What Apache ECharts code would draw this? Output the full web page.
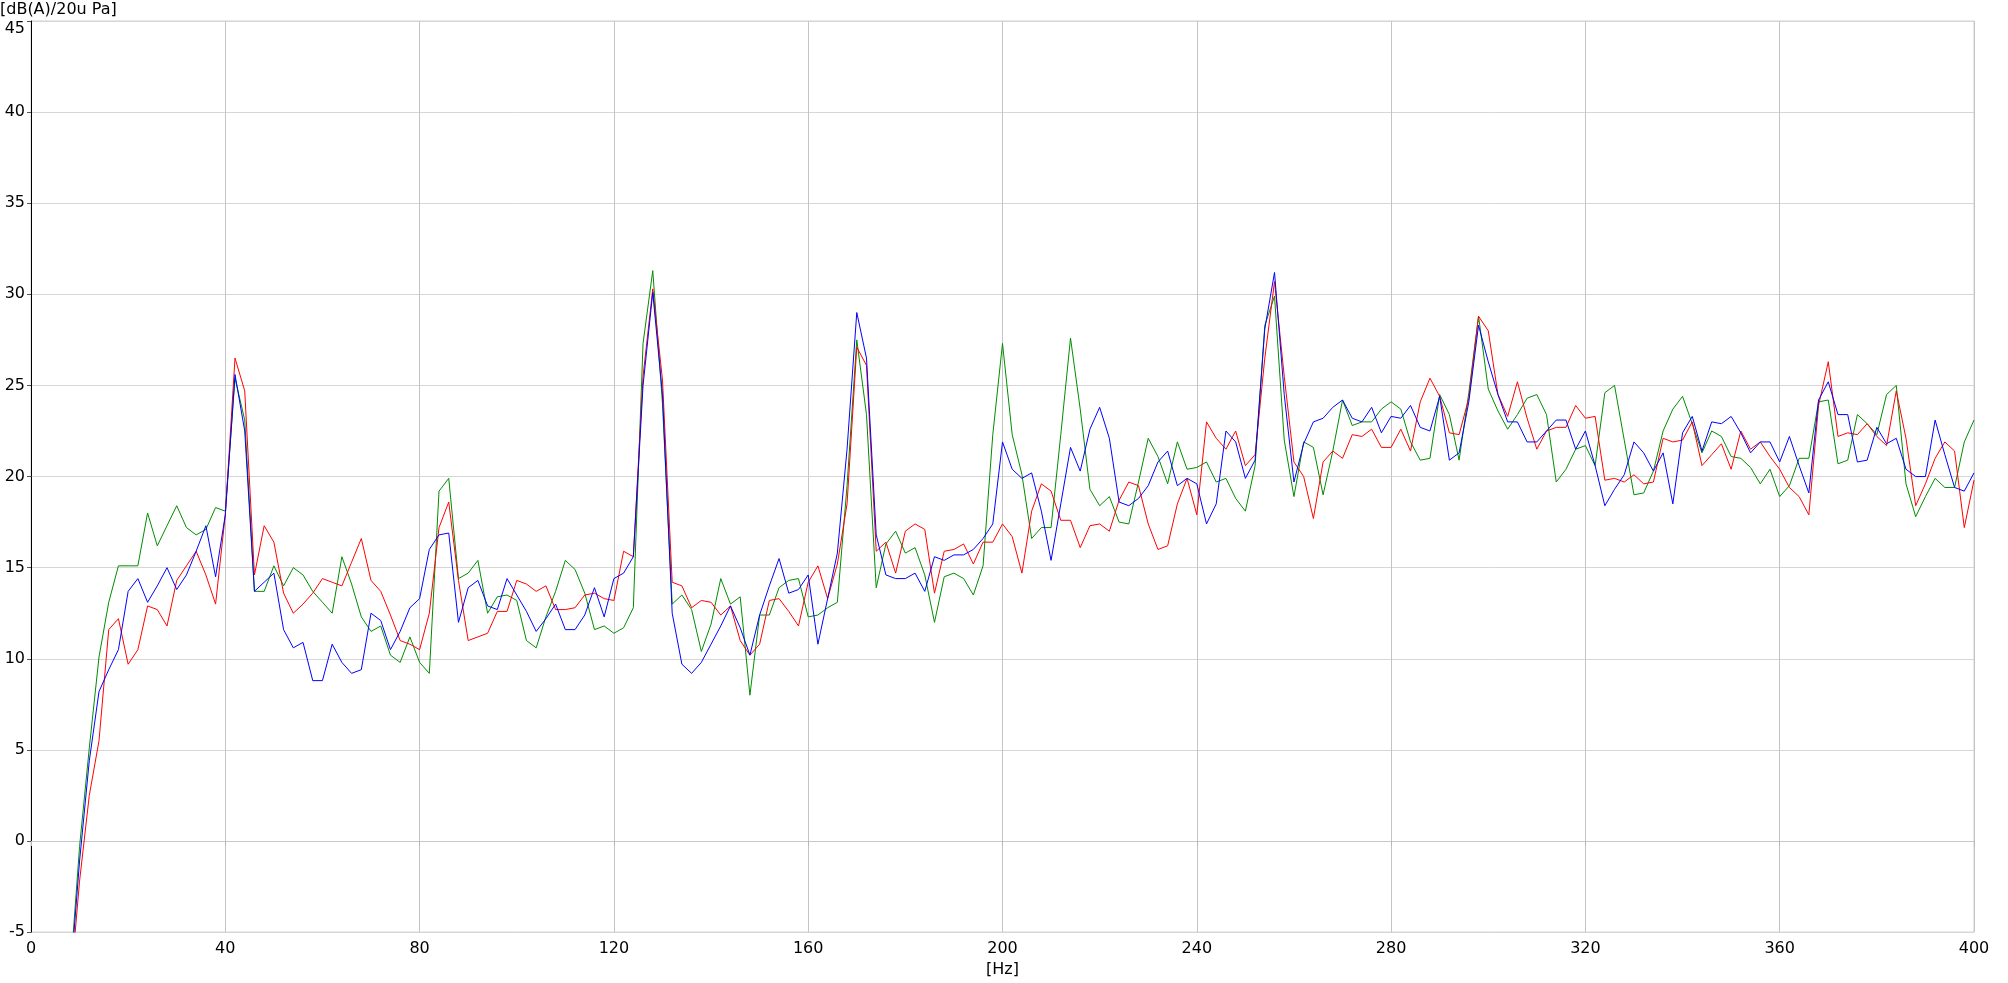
<!DOCTYPE html>
<html>
<head>
<meta charset="utf-8">
<title>Spectrum</title>
<script src="https://cdn.jsdelivr.net/npm/echarts@6/dist/echarts.min.js"></script>
<style>
  html, body { margin: 0; padding: 0; background: #fff; }
  #chart { width: 2008px; height: 983px; }
</style>
</head>
<body>
<div id="chart"></div>
<script>
// frequency bins: 2 Hz spacing, first bin shown at 8 Hz
const hzStart = 8;
const hzStep = 2;

const xTicks = [0, 40, 80, 120, 160, 200, 240, 280, 320, 360, 400];
const yTicks = [-5, 0, 5, 10, 15, 20, 25, 30, 35, 40, 45];

// dB(A) levels, one value per bin
const levelRed = [
  -8.4, -2.2, 2.5, 5.5, 11.6, 12.2, 9.7, 10.5, 12.9, 12.7, 11.8, 14.3, 15.1, 15.9, 14.6, 13.0, 17.9, 26.5, 24.7, 14.6,
  17.3, 16.4, 13.6, 12.5, 13.0, 13.6, 14.4, 14.2, 14.0, 15.3, 16.6, 14.3, 13.7, 12.4, 11.0, 10.8, 10.5, 12.5, 17.2, 18.6,
  14.3, 11.0, 11.2, 11.4, 12.6, 12.6, 14.3, 14.1, 13.7, 14.0, 12.7, 12.7, 12.8, 13.5, 13.6, 13.3, 13.2, 15.9, 15.6, 25.5,
  30.3, 25.3, 14.2, 14.0, 12.8, 13.2, 13.1, 12.4, 12.9, 11.0, 10.2, 10.8, 13.2, 13.3, 12.6, 11.8, 14.2, 15.1, 13.3, 15.2,
  18.5, 27.1, 26.1, 15.9, 16.4, 14.7, 17.0, 17.4, 17.1, 13.6, 15.9, 16.0, 16.3, 15.2, 16.4, 16.4, 17.4, 16.7, 14.7, 18.1,
  19.6, 19.2, 17.6, 17.6, 16.1, 17.3, 17.4, 17.0, 18.7, 19.7, 19.5, 17.4, 16.0, 16.2, 18.5, 19.9, 17.9, 23.0, 22.1, 21.5,
  22.5, 20.6, 21.2, 26.5, 30.7, 25.5, 20.8, 20.0, 17.7, 20.8, 21.4, 21.0, 22.3, 22.2, 22.6, 21.6, 21.6, 22.6, 21.4, 24.1,
  25.4, 24.4, 22.4, 22.3, 24.3, 28.8, 28.0, 24.5, 23.3, 25.2, 23.2, 21.5, 22.5, 22.7, 22.7, 23.9, 23.2, 23.3, 19.8, 19.9,
  19.7, 20.1, 19.6, 19.7, 22.1, 21.9, 22.0, 23.0, 20.6, 21.2, 21.8, 20.4, 22.5, 21.5, 21.9, 21.1, 20.4, 19.4, 18.9, 17.9,
  23.9, 26.3, 22.2, 22.4, 22.3, 22.9, 22.2, 21.7, 24.7, 22.1, 18.4, 19.6, 21.0, 21.9, 21.4, 17.2, 19.8
];

const levelBlue = [
  -7.9, -1.1, 4.4, 8.2, 9.4, 10.5, 13.7, 14.4, 13.1, 14.0, 15.0, 13.8, 14.6, 15.9, 17.3, 14.5, 17.9, 25.6, 22.5, 13.7,
  14.2, 14.7, 11.6, 10.6, 10.9, 8.8, 8.8, 10.8, 9.8, 9.2, 9.4, 12.5, 12.1, 10.5, 11.5, 12.8, 13.3, 16.0, 16.8, 16.9,
  12.0, 13.9, 14.3, 12.9, 12.7, 14.4, 13.5, 12.6, 11.5, 12.2, 13.0, 11.6, 11.6, 12.4, 13.9, 12.3, 14.4, 14.7, 15.6, 25.0,
  30.1, 24.5, 12.5, 9.7, 9.2, 9.8, 10.8, 11.8, 12.9, 11.7, 10.2, 12.4, 14.0, 15.5, 13.6, 13.8, 14.6, 10.8, 13.3, 15.8,
  21.5, 29.0, 26.5, 16.8, 14.6, 14.4, 14.4, 14.7, 13.7, 15.6, 15.4, 15.7, 15.7, 16.0, 16.6, 17.4, 21.9, 20.4, 19.9, 20.2,
  18.1, 15.4, 18.5, 21.6, 20.3, 22.6, 23.8, 22.1, 18.6, 18.4, 18.8, 19.5, 20.8, 21.4, 19.5, 19.9, 19.6, 17.4, 18.5, 22.5,
  21.9, 19.9, 20.9, 28.1, 31.2, 24.5, 19.7, 21.8, 23.0, 23.2, 23.8, 24.2, 23.2, 23.0, 23.8, 22.4, 23.3, 23.2, 23.9, 22.7,
  22.5, 24.4, 20.9, 21.3, 24.1, 28.3, 26.3, 24.5, 23.0, 23.0, 21.9, 21.9, 22.5, 23.1, 23.1, 21.5, 22.5, 20.6, 18.4, 19.3,
  20.1, 21.9, 21.3, 20.3, 21.3, 18.5, 22.4, 23.3, 21.4, 23.0, 22.9, 23.3, 22.4, 21.3, 21.9, 21.9, 20.8, 22.2, 20.6, 19.1,
  24.2, 25.2, 23.4, 23.4, 20.8, 20.9, 22.7, 21.8, 22.1, 20.4, 20.0, 20.0, 23.1, 21.2, 19.4, 19.2, 20.2
];

const levelGreen = [
  -7.6, -0.3, 5.1, 10.1, 13.1, 15.1, 15.1, 15.1, 18.0, 16.2, 17.3, 18.4, 17.2, 16.8, 17.1, 18.3, 18.1, 25.4, 23.1, 13.7,
  13.7, 15.1, 14.0, 15.0, 14.6, 13.7, 13.1, 12.5, 15.6, 14.1, 12.3, 11.5, 11.8, 10.2, 9.8, 11.2, 9.8, 9.2, 19.2, 19.9,
  14.4, 14.7, 15.4, 12.5, 13.4, 13.5, 13.2, 11.0, 10.6, 12.3, 13.7, 15.4, 14.9, 13.6, 11.6, 11.8, 11.4, 11.7, 12.8, 27.3,
  31.3, 24.0, 13.0, 13.5, 12.7, 10.4, 11.9, 14.4, 13.0, 13.4, 8.0, 12.4, 12.4, 13.9, 14.3, 14.4, 12.3, 12.4, 12.8, 13.1,
  19.5, 27.5, 23.4, 13.9, 16.3, 17.0, 15.8, 16.1, 14.6, 12.0, 14.5, 14.7, 14.4, 13.5, 15.1, 22.3, 27.3, 22.3, 20.1, 16.6,
  17.2, 17.2, 22.3, 27.6, 23.7, 19.3, 18.4, 18.9, 17.5, 17.4, 19.7, 22.1, 21.1, 19.6, 21.9, 20.4, 20.5, 20.8, 19.7, 19.9,
  18.8, 18.1, 20.6, 28.3, 29.9, 22.0, 18.9, 21.9, 21.6, 19.0, 21.4, 24.2, 22.8, 23.0, 23.0, 23.7, 24.1, 23.7, 21.9, 20.9,
  21.0, 24.5, 23.4, 20.9, 24.6, 28.8, 24.8, 23.6, 22.6, 23.4, 24.3, 24.5, 23.4, 19.7, 20.4, 21.5, 21.7, 20.6, 24.6, 25.0,
  22.0, 19.0, 19.1, 20.3, 22.5, 23.7, 24.4, 22.9, 21.3, 22.5, 22.2, 21.1, 21.0, 20.5, 19.6, 20.4, 18.9, 19.5, 21.0, 21.0,
  24.1, 24.2, 20.7, 20.9, 23.4, 22.9, 22.3, 24.5, 25.0, 19.6, 17.8, 18.9, 19.9, 19.4, 19.4, 21.9, 23.1
];

const hz = levelRed.map((_, i) => hzStart + i * hzStep);
const pairs = (levels) => hz.map((f, i) => [f, levels[i]]);

const labelFont = 'DejaVu Sans, Verdana, sans-serif';

let myChart = echarts.init(document.getElementById('chart'));
myChart.setOption({
  backgroundColor: '#ffffff',
  animation: false,
  title: {
    text: '[dB(A)/20u Pa]',
    left: 0,
    top: 2,
    padding: 0,
    textStyle: { fontFamily: labelFont, fontSize: 16, fontWeight: 'normal', color: '#000' }
  },
  grid: {
    left: 31, right: 34, top: 21, bottom: 48,
    show: true, borderColor: '#d0d0d0', borderWidth: 1
  },
  xAxis: {
    type: 'value',
    min: xTicks[0],
    max: xTicks[xTicks.length - 1],
    interval: xTicks[1] - xTicks[0],
    name: '[Hz]',
    nameLocation: 'middle',
    nameGap: 29,
    nameTextStyle: { fontFamily: labelFont, fontSize: 16, color: '#000' },
    axisLine: { show: true, lineStyle: { color: '#c8c8c8', width: 1 } },
    axisTick: { show: true, length: 5, lineStyle: { color: '#b8b8b8' } },
    axisLabel: { margin: 9, fontFamily: labelFont, fontSize: 16, color: '#000' },
    splitLine: { show: true, lineStyle: { color: '#c4c4c4', width: 1 } }
  },
  yAxis: {
    type: 'value',
    min: yTicks[0],
    max: yTicks[yTicks.length - 1],
    interval: yTicks[1] - yTicks[0],
    axisLine: { show: true, onZero: false, lineStyle: { color: '#000', width: 1 } },
    axisTick: { show: true, length: 4, lineStyle: { color: '#555' } },
    axisLabel: {
      margin: 6, fontFamily: labelFont, fontSize: 16, color: '#000',
      verticalAlignMaxLabel: 'top'
    },
    splitLine: { show: true, lineStyle: { color: '#d6d6d6', width: 1 } }
  },
  series: [
    { name: 'green', type: 'line', data: pairs(levelGreen), showSymbol: false,
      lineStyle: { color: '#008c00', width: 1 }, itemStyle: { color: '#008c00' } },
    { name: 'red', type: 'line', data: pairs(levelRed), showSymbol: false,
      lineStyle: { color: '#ff0000', width: 1 }, itemStyle: { color: '#ff0000' } },
    { name: 'blue', type: 'line', data: pairs(levelBlue), showSymbol: false,
      lineStyle: { color: '#0000ff', width: 1 }, itemStyle: { color: '#0000ff' } }
  ]
});
</script>
</body>
</html>
